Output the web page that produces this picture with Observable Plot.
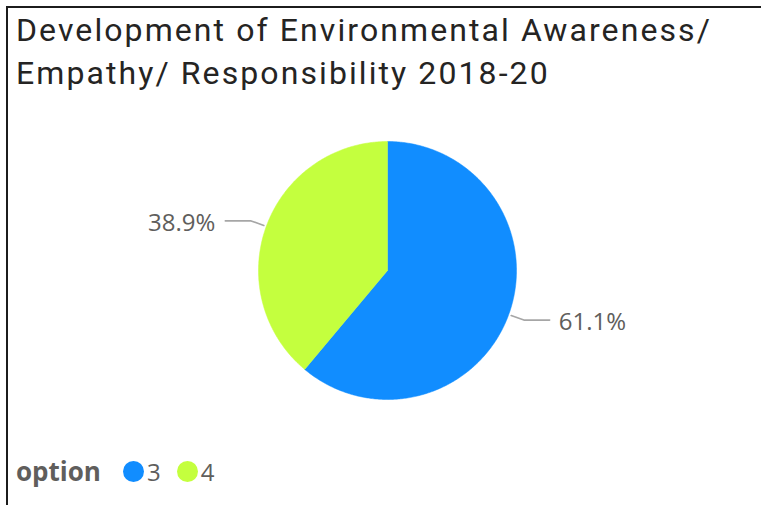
<!DOCTYPE html>
<html><head><meta charset="utf-8">
<script src="https://cdn.jsdelivr.net/npm/d3@7"></script>
<script src="https://cdn.jsdelivr.net/npm/@observablehq/plot@0.6"></script>
<style>
html,body{margin:0;padding:0;background:#fff;overflow:hidden;width:761px;height:505px;position:relative}
#frame{position:absolute;left:6px;top:6px;width:820px;height:620px;border-left:2px solid #1c1c1c;border-top:2px solid #1c1c1c;box-sizing:border-box}
#title{position:absolute;left:16px;top:9px;font-family:Roboto,"DejaVu Sans",sans-serif;font-weight:400;font-size:32px;line-height:43px;color:#252423;white-space:nowrap}
#title div{white-space:nowrap}
#chart{position:absolute;left:0;top:120px}
#legend{position:absolute;left:16px;top:454px;height:34px;display:flex;align-items:center;font-family:"Segoe UI","Open Sans",sans-serif;font-size:24px;color:#605E5C;white-space:nowrap}
#legend .ttl{font-weight:bold;font-size:26px;margin-right:22px}
#legend .dot{display:inline-block;width:21px;height:21px;border-radius:50%;margin-right:3px}
#legend .item{display:flex;align-items:center;margin-right:16px}
</style></head>
<body>
<div id="frame"></div>
<div id="title"><div id="t1">Development of Environmental Awareness/</div><div id="t2">Empathy/ Responsibility 2018-20</div></div>
<div id="chart"></div>
<div id="legend"></div>
<script>
const legendTitle = "option";
const options = ["3", "4"];
const shares = [61.1, 38.9];
const labels = ["61.1%", "38.9%"];
const colors = ["#118DFF", "#C4FF3E"];

// fit the title's first line to the reference width
(function () {
  const t1 = document.getElementById("t1");
  const r = document.createRange(); r.selectNodeContents(t1);
  const w = r.getBoundingClientRect().width;
  const n = t1.textContent.length;
  const ls = (696 - w) / n;
  document.getElementById("title").style.letterSpacing = ls + "px";
})();

const arcs = d3.pie().sort(null).value(d => d)(shares);

const slicePts = [];
arcs.forEach((a, i) => {
  slicePts.push({option: options[i], x: 0, y: 0});
  const n = Math.max(2, Math.ceil((a.endAngle - a.startAngle) / 0.01));
  for (let k = 0; k <= n; k++) {
    const t = a.startAngle + (a.endAngle - a.startAngle) * k / n;
    slicePts.push({option: options[i], x: Math.sin(t), y: Math.cos(t)});
  }
  slicePts.push({option: options[i], x: 0, y: 0});
});

const leaderPts = [];
const labelPts = [];
arcs.forEach((a, i) => {
  const m = (a.startAngle + a.endAngle) / 2;
  const sx = Math.sin(m), sy = Math.cos(m);
  const side = sx >= 0 ? 1 : -1;
  const ex = sx * 1.125, ey = sy * 1.125;
  leaderPts.push({option: options[i], x: sx * 1.02, y: sy * 1.02});
  leaderPts.push({option: options[i], x: ex, y: ey});
  leaderPts.push({option: options[i], x: ex + side * 0.2, y: ey});
  labelPts.push({label: labels[i], x: ex + side * 0.2, y: ey, side});
});

const font = "'Segoe UI','Open Sans',sans-serif";
const chart = Plot.plot({
  width: 761,
  height: 320,
  margin: 0,
  style: {background: "transparent", overflow: "visible"},
  x: {domain: [-1, 1], range: [258, 516], axis: null},
  y: {domain: [-1, 1], range: [279, 21], axis: null},
  color: {domain: options, range: colors},
  marks: [
    Plot.line(slicePts, {x: "x", y: "y", z: "option", fill: "option", stroke: "option", strokeWidth: 0.5, curve: "linear"}),
    Plot.line(leaderPts, {x: "x", y: "y", z: "option", stroke: "#A6A6A6", strokeWidth: 1.6}),
    Plot.text(labelPts.filter(d => d.side > 0), {x: "x", y: "y", text: "label", textAnchor: "start", dx: 9, dy: 2, fill: "#605E5C", fontSize: 24, fontFamily: font}),
    Plot.text(labelPts.filter(d => d.side < 0), {x: "x", y: "y", text: "label", textAnchor: "end", dx: -10, dy: 2, fill: "#605E5C", fontSize: 24, fontFamily: font})
  ]
});
document.getElementById("chart").appendChild(chart);

const lg = document.getElementById("legend");
const t = document.createElement("span"); t.className = "ttl"; t.textContent = legendTitle; lg.appendChild(t);
options.forEach((o, i) => {
  const it = document.createElement("span"); it.className = "item";
  const d = document.createElement("span"); d.className = "dot"; d.style.background = colors[i];
  const s = document.createElement("span"); s.textContent = o;
  it.appendChild(d); it.appendChild(s); lg.appendChild(it);
});
</script>
</body></html>
